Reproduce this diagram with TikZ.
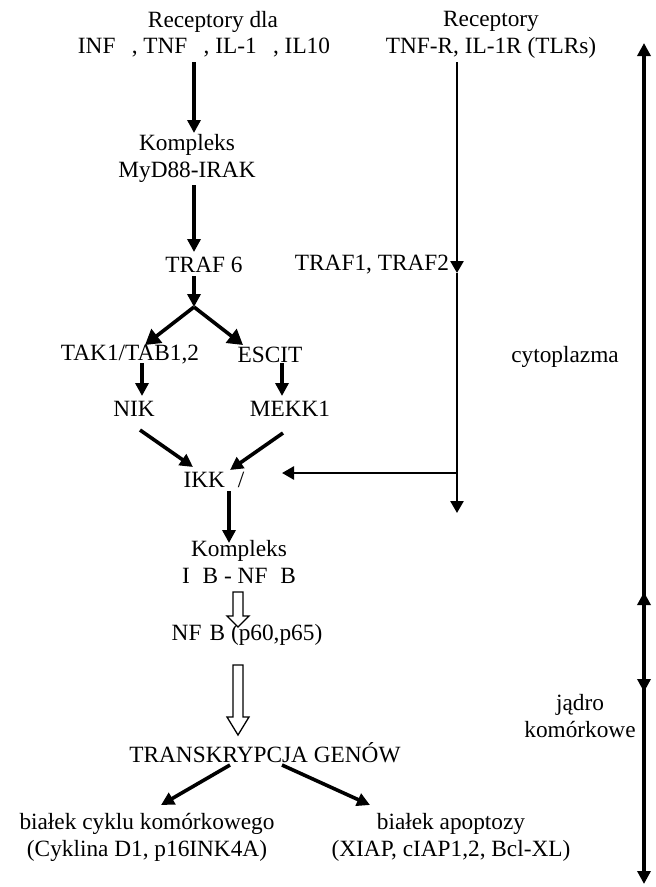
\documentclass[tikz,border=0pt]{standalone}
\usepackage{fontspec}
\setmainfont{Liberation Serif}
\usetikzlibrary{arrows.meta}
\begin{document}
\begin{tikzpicture}[x=1pt,y=-1pt,
  lbl/.style={inner sep=0pt, align=center, font=\fontsize{23.3}{27}\selectfont},
  arr/.style={line width=3.6pt, -{Triangle[length=13pt,width=13pt]}},
  bigarr/.style={line width=3.6pt, -{Triangle[length=15pt,width=17pt]}},
  thinarr/.style={line width=2.6pt, -{Triangle[length=12pt,width=13pt]}},
  thinline/.style={line width=2.6pt},
  axisarr/.style={line width=3.6pt, {Triangle[length=13pt,width=13pt]}-{Triangle[length=13pt,width=13pt]}},
  hollow/.style={line width=1.3pt, fill=white, line join=miter}]
\useasboundingbox (0,0) rectangle (656,887);

% ---- text nodes
\node[lbl] (recA1) at (213,22) {Receptory dla};
\node[lbl] (recA2) at (204,48) {INF\hspace{0.7em}, TNF\hspace{0.7em}, IL-1\hspace{0.7em}, IL10};
\node[lbl] (recB) at (491,35) {Receptory\\TNF-R, IL-1R (TLRs)};
\node[lbl] (myd) at (187,158) {Kompleks\\MyD88-IRAK};
\node[lbl] (traf6) at (204,265) {TRAF 6};
\node[lbl] (traf12) at (372,265) {TRAF1, TRAF2};
\node[lbl] (tak) at (130,355) {TAK1/TAB1,2};
\node[lbl] (escit) at (270,355) {ESCIT};
\node[lbl] (nik) at (134,409) {NIK};
\node[lbl] (mekk) at (290,409) {MEKK1};
\node[lbl] (ikk) at (214,480) {IKK\hspace{0.55em}/};
\node[lbl] (kompB) at (239,562) {Kompleks\\I\hspace{0.55em}B - NF\hspace{0.55em}B};
\node[lbl] (nfkb) at (247,635) {NF\hspace{0.35em}B (p60,p65)};
\node[lbl] (trans) at (265,753) {TRANSKRYPCJA GENÓW};
\node[lbl] (cyc) at (147,837) {białek cyklu komórkowego\\(Cyklina D1, p16INK4A)};
\node[lbl] (apo) at (451,837) {białek apoptozy\\(XIAP, cIAP1,2, Bcl-XL)};
\node[lbl] (cyto) at (565,357) {cytoplazma};
\node[lbl] (jadro) at (580,716) {jądro\\komórkowe};

% ---- connector end points
\coordinate (m1a) at (194,62);  \coordinate (m1b) at (194,133);
\coordinate (m2a) at (194,185); \coordinate (m2b) at (194,252);
\coordinate (m3a) at (194,276); \coordinate (fork) at (194,307);
\coordinate (fl) at (145,345);  \coordinate (fr) at (243,345);
\coordinate (t1a) at (142,363); \coordinate (t1b) at (142,396);
\coordinate (e1a) at (282,363); \coordinate (e1b) at (282,396);
\coordinate (n1a) at (140,430); \coordinate (n1b) at (193,467);
\coordinate (k1a) at (283,433); \coordinate (k1b) at (230,470);
\coordinate (r0) at (457,62);   \coordinate (r1) at (457,273);
\coordinate (rb) at (457,473);  \coordinate (r2) at (457,513);
\coordinate (ikkin) at (282,473);
\coordinate (i1a) at (229,491); \coordinate (i1b) at (229,543);
\coordinate (h1) at (238,592);  \coordinate (h2) at (238,665);
\coordinate (g1a) at (230,765); \coordinate (g1b) at (161,805);
\coordinate (g2a) at (282,765); \coordinate (g2b) at (370,805);
\coordinate (ax0) at (644,43);  \coordinate (ax1) at (644,692);
\coordinate (ax2) at (644,592); \coordinate (ax3) at (644,884);

% ---- connectors
\draw[arr] (m1a) -- (m1b);
\draw[arr] (m2a) -- (m2b);
\draw[arr] (m3a) -- (fork);
\draw[bigarr] (fork) -- (fl);
\draw[bigarr] (fork) -- (fr);
\draw[arr] (t1a) -- (t1b);
\draw[arr] (e1a) -- (e1b);
\draw[arr] (n1a) -- (n1b);
\draw[arr] (k1a) -- (k1b);
\draw[thinarr] (r0) -- (r1);
\draw[thinline] (r1) -- (rb);
\draw[thinarr] (rb) -- (r2);
\draw[thinarr] (rb) -- (ikkin);
\draw[arr] (i1a) -- (i1b);
\draw[arr] (g1a) -- (g1b);
\draw[arr] (g2a) -- (g2b);

% hollow arrows
\draw[hollow] ([xshift=-5pt]h1) -- ++(0,24) -- ++(-6,0) -- ++(11,11) -- ++(11,-11) -- ++(-6,0) -- ++(0,-24) -- cycle;
\draw[hollow] ([xshift=-5pt]h2) -- ++(0,52) -- ++(-6,0) -- ++(11,18) -- ++(11,-18) -- ++(-6,0) -- ++(0,-52) -- cycle;

% compartment axis
\draw[axisarr] (ax1) -- (ax0);
\draw[axisarr] (ax2) -- (ax3);
\end{tikzpicture}
\end{document}
